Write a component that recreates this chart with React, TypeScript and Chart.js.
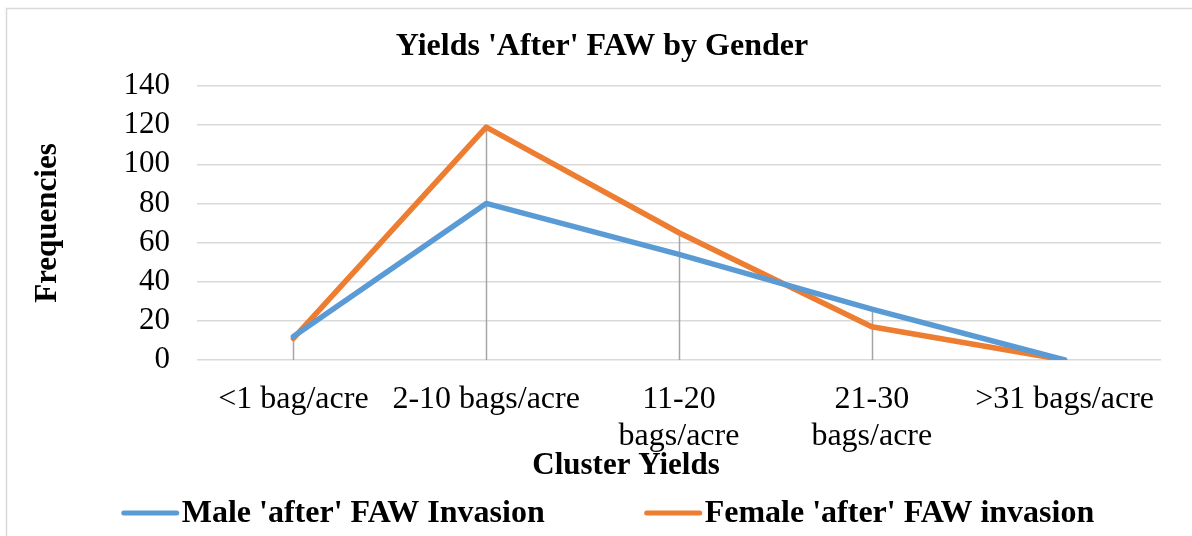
import React, { useEffect, useRef } from 'react';
import { Chart, registerables } from 'chart.js';

Chart.register(...registerables);

const chartTitle = "Yields 'After' FAW by Gender";
const xAxisTitle = 'Cluster Yields';
const yAxisTitle = 'Frequencies';
const categories: (string | string[])[] = [
  '<1 bag/acre',
  '2-10 bags/acre',
  ['11-20', 'bags/acre'],
  ['21-30', 'bags/acre'],
  '>31 bags/acre',
];
const maleName = "Male 'after' FAW Invasion";
const femaleName = "Female 'after' FAW invasion";
const maleValues = [12, 80, 54, 26, 0];
const femaleValues = [11, 119, 65, 17, 0];
const yMin = 0;
const yMax = 140;
const yStep = 20;

const BLUE = '#5B9BD5';
const ORANGE = '#ED7D31';
const SERIF = "'Liberation Serif', 'Times New Roman', serif";

const W = 1192;
const H = 536;

const extras = {
  id: 'extras',
  beforeDraw(chart: any) {
    const ctx = chart.ctx;
    ctx.save();
    ctx.fillStyle = '#ffffff';
    ctx.fillRect(0, 0, chart.width, chart.height);
    ctx.strokeStyle = '#d9d9d9';
    ctx.lineWidth = 1.5;
    ctx.strokeRect(6.5, 8.5, 1400, 800);
    ctx.restore();
  },
  beforeDatasetsDraw(chart: any) {
    const ctx = chart.ctx;
    const xs = chart.scales.x;
    const ys = chart.scales.y;
    ctx.save();
    ctx.strokeStyle = '#a5a5a5';
    ctx.lineWidth = 1.5;
    for (let i = 0; i < categories.length; i++) {
      const top = Math.max(maleValues[i], femaleValues[i]);
      if (top <= 0) continue;
      const x = Math.round(xs.getPixelForValue(i)) + 0.5;
      ctx.beginPath();
      ctx.moveTo(x, ys.getPixelForValue(top));
      ctx.lineTo(x, ys.getPixelForValue(0));
      ctx.stroke();
    }
    ctx.restore();
  },
  afterDraw(chart: any) {
    const ctx = chart.ctx;
    ctx.save();
    ctx.fillStyle = '#000';
    ctx.textBaseline = 'middle';
    ctx.textAlign = 'center';
    ctx.font = `bold 32px ${SERIF}`;
    ctx.fillText(chartTitle, 602, 47);
    ctx.font = `bold 31px ${SERIF}`;
    ctx.fillText(xAxisTitle, 626, 466);

    // legend
    ctx.font = `bold 32px ${SERIF}`;
    const items = [
      { name: maleName, color: BLUE },
      { name: femaleName, color: ORANGE },
    ];
    const markW = 57;
    const markGap = 3;
    const itemGap = 100;
    const widths = items.map((it) => markW + markGap + ctx.measureText(it.name).width);
    const total = widths[0] + widths[1] + itemGap;
    let x = 608 - total / 2;
    const y = 513;
    ctx.textAlign = 'left';
    items.forEach((it, k) => {
      ctx.strokeStyle = it.color;
      ctx.lineWidth = 5;
      ctx.lineCap = 'round';
      ctx.beginPath();
      ctx.moveTo(x + 2, y);
      ctx.lineTo(x + markW - 2, y);
      ctx.stroke();
      ctx.fillText(it.name, x + markW + markGap, y + 1);
      x += widths[k] + itemGap;
    });
    ctx.restore();
  },
};

export default function App() {
  const ref = useRef<HTMLCanvasElement | null>(null);
  useEffect(() => {
    if (!ref.current) return;
    const chart = new Chart(ref.current, {
      type: 'line',
      data: {
        labels: categories as any,
        datasets: [
          {
            label: maleName,
            data: maleValues,
            borderColor: BLUE,
            backgroundColor: BLUE,
            borderWidth: 5.5,
            pointRadius: 0,
            borderCapStyle: 'round',
            borderJoinStyle: 'round',
            tension: 0,
          },
          {
            label: femaleName,
            data: femaleValues,
            borderColor: ORANGE,
            backgroundColor: ORANGE,
            borderWidth: 5.5,
            pointRadius: 0,
            borderCapStyle: 'round',
            borderJoinStyle: 'round',
            tension: 0,
          },
        ],
      },
      options: {
        responsive: false,
        animation: false,
        layout: { padding: { top: 86, right: 31, bottom: 0, left: 0 } },
        plugins: {
          legend: { display: false },
          title: { display: false },
          tooltip: { enabled: false },
        },
        scales: {
          x: {
            offset: true,
            grid: { display: false, drawTicks: false },
            border: { display: false },
            ticks: {
              autoSkip: false,
              maxRotation: 0,
              minRotation: 0,
              padding: 21,
              color: '#000',
              font: { family: SERIF, size: 32, lineHeight: 1.15 },
            },
            afterFit(scale: any) {
              scale.height = 176;
            },
          },
          y: {
            min: yMin,
            max: yMax,
            grid: { color: '#d9d9d9', lineWidth: 1.5, drawTicks: false },
            border: { display: false },
            ticks: {
              stepSize: yStep,
              autoSkip: false,
              padding: 27,
              color: '#000',
              font: { family: SERIF, size: 31 },
            },
            title: {
              display: true,
              text: yAxisTitle,
              color: '#000',
              font: { family: SERIF, size: 31, weight: 'bold' },
              padding: { top: 29, bottom: 0 },
            },
            afterFit(scale: any) {
              scale.width = 197;
            },
          },
        },
      },
      plugins: [extras],
    });
    return () => chart.destroy();
  }, []);
  return (
    <div style={{ position: 'fixed', left: 0, top: 0, width: W, height: H, overflow: 'hidden', background: '#fff' }}>
      <canvas ref={ref} width={W} height={H} style={{ display: 'block' }} />
    </div>
  );
}
